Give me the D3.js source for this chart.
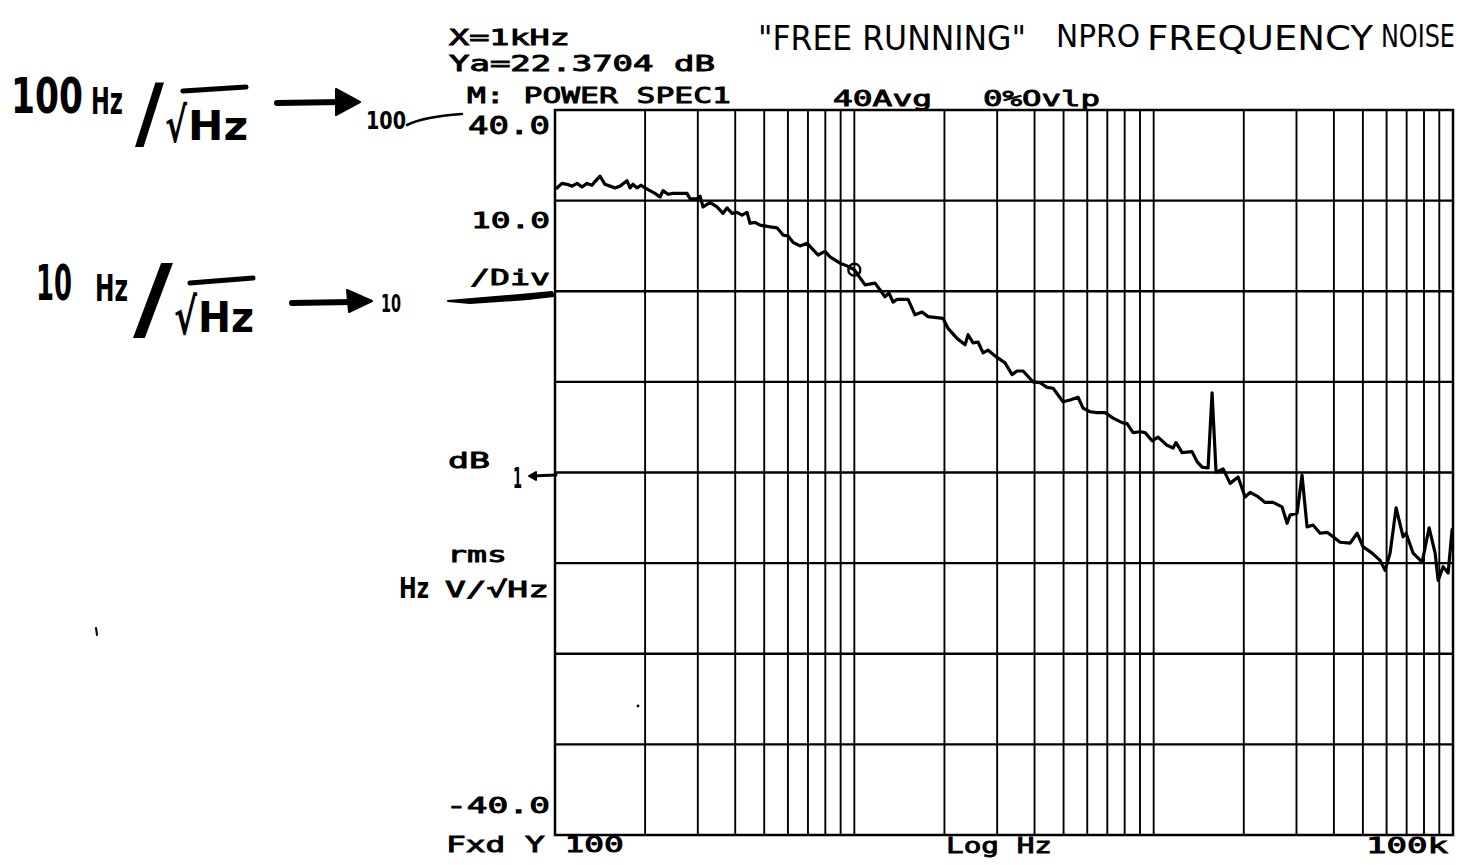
<!DOCTYPE html>
<html>
<head>
<meta charset="utf-8">
<script src="https://cdn.jsdelivr.net/npm/d3@7"></script>
<style>
  html, body { margin: 0; padding: 0; background: #fff; }
  svg { display: block; }
</style>
</head>
<body>
<svg id="chart" width="1460" height="865"></svg>
<script>
// Frequency-noise spectrum, 100 Hz .. 100 kHz, log sweep, 40 averages
const freqHz = [
  101.5, 105.5, 109.7, 114.0, 118.5, 123.1, 127.9, 132.9, 136.0, 141.4,
  146.9, 152.7, 158.7, 164.9, 174.0, 178.1, 182.2, 187.9, 193.8, 199.8,
  207.6, 215.8, 224.3, 229.5, 238.5, 247.9, 276.1, 282.5, 298.2, 305.2,
  312.3, 329.5, 347.8, 364.2, 375.6, 390.3, 405.6, 421.5, 438.1, 448.3,
  465.9, 484.2, 523.0, 551.9, 577.9, 600.5, 624.1, 658.7, 695.0, 727.8,
  756.3, 798.2, 829.5, 896.0, 945.4, 1000, 1086, 1173, 1266, 1306,
  1347, 1389, 1512, 1595, 1684, 1763, 1979, 2056, 2203, 2344,
  2399, 2493, 2590, 2692, 2797, 2999, 3188, 3365, 3496, 3662,
  3954, 4174, 4405, 4613, 4981, 5257, 5590, 5809, 6131, 6471,
  6880, 7317, 7844, 8149, 8535, 9008, 9360, 9878, 10344, 11086,
  11608, 11878, 12441, 13436, 13964, 14510, 15195, 15672, 16163, 17058,
  18003, 19144, 20204, 20996, 22159, 23563, 25057, 26853, 27905, 28556,
  30134, 31313, 32540, 34080, 35973, 37954, 39757, 41959, 45321, 47826,
  50082, 53673, 57071, 59311, 61637, 64554, 68130, 69718, 73581, 78860,
  83227, 87154, 89184, 92680, 96316, 99310
];
const levelDb = [
  31.4, 31.9, 31.8, 31.6, 31.9, 31.5, 31.9, 31.7, 32.1, 32.7,
  31.8, 31.6, 31.4, 31.6, 32.2, 31.4, 31.8, 31.4, 31.7, 31.4,
  31.1, 30.8, 30.4, 31.1, 30.7, 30.8, 30.8, 30.2, 30.2, 30.5,
  29.3, 29.8, 29.3, 28.6, 29.2, 28.6, 28.7, 28.4, 28.7, 27.5,
  27.6, 27.3, 27.1, 27.0, 26.2, 26.1, 25.4, 25.0, 25.3, 24.6,
  24.0, 24.4, 23.8, 23.1, 22.8, 22.3704, 20.7, 20.9, 19.4, 19.8,
  18.8, 19.1, 19.1, 17.4, 17.7, 17.2, 17.0, 15.9, 14.8, 14.1,
  15.2, 14.3, 14.4, 13.2, 13.5, 12.7, 12.1, 10.8, 11.2, 11.2,
  10.0, 9.9, 9.4, 9.3, 7.8, 8.0, 8.3, 7.1, 6.7, 6.6,
  6.6, 6.0, 5.5, 5.4, 4.4, 4.5, 4.4, 3.5, 3.9, 3.0,
  2.7, 3.3, 2.2, 2.3, 1.2, 0.6, 0.5, 8.8, 0.0, 0.4,
  -1.2, -0.5, -2.7, -2.2, -2.6, -3.3, -3.3, -3.8, -5.6, -4.7,
  -4.5, -0.3, -6.0, -5.8, -6.7, -6.6, -7.1, -7.7, -7.8, -6.7,
  -8.2, -8.9, -9.7, -10.8, -8.9, -3.9, -7.1, -6.7, -8.9, -9.9,
  -6.1, -8.9, -11.9, -10.4, -11.1, -6.3
];

// Marker readout
const markerHz = 1000;
const markerDb = 22.3704;

// Axis settings
const freqDomain = [100, 100000];
const dbDomain = [-40, 40];
const dbPerDiv = 10;

// Analyzer annotation strings
const headerLines = ["X=1kHz", "Ya=" + markerDb + " dB", "M: POWER SPEC1"];
const measureInfo = ["40Avg", "0%Ovlp"];
const yAxisTexts = ["40.0", "10.0", "/Div", "dB", "rms", "V/√Hz", "-40.0"];
const xAxisTexts = ["Fxd Y 100", "Log Hz", "100k"];

// Pen notes on the plot
const titleWords = ['"FREE RUNNING"', "NPRO", "FREQUENCY", "NOISE"];
const noteTop = ["100", "Hz", "/", "√", "Hz", "100"];
const noteMid = ["10", "Hz", "/", "√", "Hz", "10"];

const svg = d3.select("#chart");
const x = d3.scaleLog().domain(freqDomain).range([555, 1453]);
const y = d3.scaleLinear().domain(dbDomain).range([835, 110]);

// ---- grid ----
const grid = svg.append("g").attr("stroke", "#000").attr("fill", "none");
grid.selectAll("line.v")
  .data(x.ticks().filter(f => f > freqDomain[0] && f < freqDomain[1]))
  .join("line")
  .attr("class", "v")
  .attr("x1", d => x(d)).attr("x2", d => x(d))
  .attr("y1", y(dbDomain[1])).attr("y2", y(dbDomain[0]))
  .attr("stroke-width", 1.9);
grid.selectAll("line.h")
  .data(d3.range(dbDomain[0] + dbPerDiv, dbDomain[1], dbPerDiv))
  .join("line")
  .attr("class", "h")
  .attr("x1", x(freqDomain[0])).attr("x2", x(freqDomain[1]))
  .attr("y1", d => y(d)).attr("y2", d => y(d))
  .attr("stroke-width", 2.3);
grid.append("rect")
  .attr("x", x(freqDomain[0])).attr("y", y(dbDomain[1]))
  .attr("width", x(freqDomain[1]) - x(freqDomain[0]))
  .attr("height", y(dbDomain[0]) - y(dbDomain[1]))
  .attr("stroke-width", 2.5);

// ---- trace ----
const pts = freqHz.map((f, i) => ({ f, db: levelDb[i] }));
svg.append("path")
  .datum(pts)
  .attr("d", d3.line().x(d => x(d.f)).y(d => y(d.db)))
  .attr("fill", "none").attr("stroke", "#000")
  .attr("stroke-width", 3.2).attr("stroke-linejoin", "round").attr("stroke-linecap", "round");

svg.append("circle")
  .attr("cx", x(markerHz)).attr("cy", y(markerDb)).attr("r", 6)
  .attr("fill", "none").attr("stroke", "#000").attr("stroke-width", 2.4);

// Text placed at (px, py) and squeezed/stretched horizontally to span `width`.
function fitText(str, px, py, width, style) {
  const t = svg.append("text")
    .attr("x", 0).attr("y", 0)
    .attr("fill", "#000")
    .attr("font-family", style.family)
    .attr("font-weight", style.weight)
    .attr("font-size", style.size)
    .text(str);
  if (style.stroke) t.attr("stroke", "#000").attr("stroke-width", style.stroke);
  const natural = t.node().getComputedTextLength() || width;
  const sx = width ? width / natural : 1;
  t.attr("transform", `translate(${px},${py}) scale(${sx},1)`);
  return t;
}

// ---- plotter lettering ----
const plotStyle = size => ({ family: "DejaVu Sans Mono, monospace", weight: "normal", size: size || 22, stroke: 0.9 });
function plotText(str, px, py, width, size) { return fitText(str, px, py, width, plotStyle(size)); }

plotText(headerLines[0], 449, 45, 121, 21);
plotText(headerLines[1], 449, 71, 266, 21);
plotText(headerLines[2], 467, 103, 264);
plotText(measureInfo[0], 833, 106, 99);
plotText(measureInfo[1], 983, 106, 117);

plotText(yAxisTexts[0], 468, 134, 82, 25);
plotText(yAxisTexts[1], 471, 228, 79);
plotText(yAxisTexts[2], 470, 285, 80);
plotText(yAxisTexts[3], 448, 468, 42);
plotText(yAxisTexts[4], 447, 562, 60);
plotText(yAxisTexts[5], 445, 597, 104);
plotText(yAxisTexts[6], 446, 813, 104);

plotText(xAxisTexts[0], 446, 852, 178);
plotText(xAxisTexts[1], 946, 853, 106);
plotText(xAxisTexts[2], 1366, 853, 82);

// ---- pen notes ----
const penStyle = (size, weight) => ({ family: "DejaVu Sans Condensed, DejaVu Sans, sans-serif", weight: weight || "bold", size });
function penText(str, px, py, size, width, weight) { return fitText(str, px, py, width, penStyle(size, weight)); }
function penPath(d, w) {
  svg.append("path").attr("d", d).attr("fill", "none").attr("stroke", "#000")
    .attr("stroke-width", w).attr("stroke-linecap", "round").attr("stroke-linejoin", "round");
}
function penFill(d) {
  svg.append("path").attr("d", d).attr("fill", "#000").attr("stroke", "#000")
    .attr("stroke-width", 2).attr("stroke-linejoin", "round");
}

// title
penText(titleWords[0], 758, 50, 34, 268, "normal");
penText(titleWords[1], 1056, 47, 32, 84, "normal");
penText(titleWords[2], 1147, 50, 34, 226, "normal");
penText(titleWords[3], 1381, 47, 32, 74, "normal");

// 100 Hz/√Hz note
penText(noteTop[0], 11, 113, 50, 72);
penText(noteTop[1], 91, 114, 38, 32);
penText(noteTop[2], 135, 140, 78, 29);
penText(noteTop[3], 165, 142, 48, 22);
penText(noteTop[4], 188, 140, 40, 60);
penPath("M183,91 L246,87", 5);
penPath("M277,103 L342,102", 6);
penFill("M336,89 L360,102 L336,115 Z");
penText(noteTop[5], 366, 129, 24, 40);
penPath("M407,125 Q422,117 462,114", 2.6);

// 10 Hz/√Hz note
penText(noteMid[0], 36, 300, 50, 36);
penText(noteMid[1], 95, 301, 38, 33);
penText(noteMid[2], 133, 330, 90, 40);
penText(noteMid[3], 174, 334, 50, 23);
penText(noteMid[4], 198, 332, 42, 56);
penPath("M190,283 L253,278", 5);
penPath("M292,303 L352,302", 6);
penFill("M347,290 L372,301 L349,312 Z");
penText(noteMid[5], 381, 312, 24, 20);
penFill("M448,301 L520,295 L552,292 L554,296 L528,299 L470,303 Z");

// scale marks near dB / units
penText("1", 513, 488, 28, 9);
penPath("M531,476 L556,475", 3);
penFill("M529,476 L536,472 L536,480 Z");
penText("Hz", 399, 598, 28, 30);

// stray pen marks
penPath("M96,628 L97,635", 2);
svg.append("circle").attr("cx", 638).attr("cy", 706).attr("r", 1.4).attr("fill", "#000");
</script>
</body>
</html>
